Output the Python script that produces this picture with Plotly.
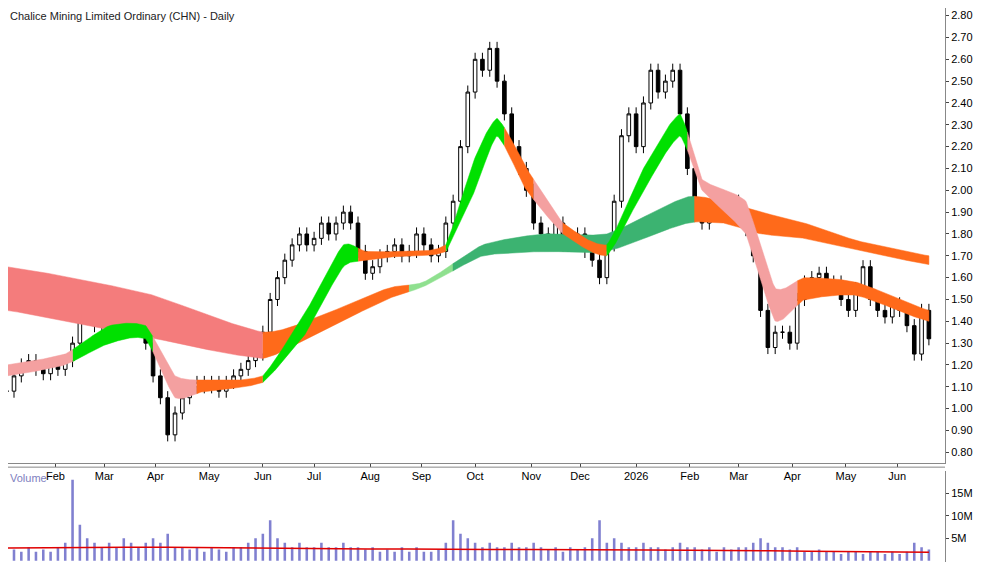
import numpy as np, pandas as pd
import plotly.graph_objects as go
from plotly.subplots import make_subplots

start = "2025-01-06"
closes = [1.08,1.15,1.20,1.22,1.18,1.16,1.20,1.18,1.22,1.30,1.45,1.42,1.38,1.45,1.42,1.48,1.45,1.50,1.40,1.30,
 1.15,1.05,0.88,0.98,1.05,1.10,1.12,1.10,1.12,1.08,1.12,1.15,1.18,1.22,1.25,1.35,1.50,1.60,1.68,1.75,
 1.80,1.75,1.78,1.85,1.80,1.85,1.90,1.85,1.72,1.62,1.65,1.70,1.72,1.75,1.70,1.72,1.80,1.75,1.70,1.72,
 1.85,1.95,2.20,2.45,2.60,2.55,2.65,2.50,2.35,2.20,2.10,2.00,1.85,1.80,1.78,1.85,1.75,1.78,1.80,1.72,
 1.68,1.60,1.75,1.95,2.25,2.35,2.20,2.40,2.55,2.45,2.50,2.55,2.35,2.10,1.90,1.85,1.90,1.95,1.90,1.95,
 1.90,1.82,1.70,1.45,1.28,1.35,1.35,1.30,1.50,1.58,1.60,1.62,1.55,1.58,1.50,1.45,1.55,1.65,1.50,1.45,
 1.42,1.48,1.45,1.38,1.25,1.45,1.32]
volumes = [3,2.5,2,3,2,2.5,2,3,4,18,8,5,4,3,4,3,5,4,3,4,
 5,4,6,3,3,2.5,3,2,3,2.5,2,3,3,4,5,6,9,5,4,3,
 4,3,3,4,3,3,4,3,3,2.5,3,2,2.5,2,3,2,3,2,2,2.5,
 4,9,6,5,4,3,4,3,3,4,3,3,4,3,2.5,3,2,3,2.5,3,
 5,9,4,5,4,3,3,4,3,3,2.5,3,4,3,3,2.5,3,2,3,2.5,
 3,3,4,5,4,3,3,2.5,3,2,2,2.5,2,2,1.5,2,2,1.5,2,2,
 1.5,2,1.5,2,4,3,2.5]
vol_ma = [2.8,2.9,3.0,3.0,3.0,2.9,2.8,2.8,2.7,2.6,2.6,2.5,2.5,2.5,2.5,2.4,2.4,2.3,2.3,2.2,2.1,2.0,1.9,1.9]

slow_idx = [0,19,35,41,52,57,65,73,82,93,98,103,109,116,126]
slow_up  = [1.65,1.53,1.35,1.40,1.55,1.58,1.75,1.80,1.80,1.97,1.95,1.90,1.85,1.77,1.70]
slow_lo  = [1.45,1.33,1.23,1.32,1.50,1.56,1.70,1.72,1.72,1.85,1.85,1.80,1.78,1.73,1.66]
slow_seg = [(0,35,"#f47c7c"),(35,55,"#ff6a1a"),(55,61,"#8fe08f"),(61,94,"#3cb371"),(94,126,"#ff6a1a")]

fast_idx = [0,8,14,19,23,27,35,41,46,49,54,60,64,67,71,76,82,87,92,95,101,105,109,116,126]
fast_up  = [1.20,1.25,1.38,1.38,1.15,1.13,1.15,1.45,1.75,1.72,1.72,1.75,2.15,2.33,2.10,1.85,1.75,2.10,2.35,2.05,1.95,1.55,1.60,1.58,1.45]
fast_lo  = [1.15,1.20,1.30,1.32,1.05,1.08,1.12,1.35,1.65,1.68,1.70,1.72,2.00,2.25,2.00,1.80,1.70,2.00,2.25,2.00,1.80,1.40,1.50,1.52,1.40]
fast_seg = [(0,9,"#f4a0a0"),(9,20,"#00e000"),(20,26,"#f4a0a0"),(26,35,"#ff6a1a"),(35,48,"#00e000"),
 (48,60,"#ff6a1a"),(60,68,"#00e000"),(68,72,"#ff6a1a"),(72,76,"#f4a0a0"),(76,82,"#ff6a1a"),(82,93,"#00e000"),
 (93,108,"#f4a0a0"),(108,126,"#ff6a1a")]

price_ticks = [0.80,0.90,1.00,1.10,1.20,1.30,1.40,1.50,1.60,1.70,1.80,1.90,2.00,2.10,2.20,2.30,2.40,2.50,2.60,2.70,2.80]
month_labels = ["Feb","Mar","Apr","May","Jun","Jul","Aug","Sep","Oct","Nov","Dec","2026","Feb","Mar","Apr","May","Jun"]
month_starts = ["2025-02-01","2025-03-01","2025-04-01","2025-05-01","2025-06-01","2025-07-01","2025-08-01",
 "2025-09-01","2025-10-01","2025-11-01","2025-12-01","2026-01-01","2026-02-01","2026-03-01","2026-04-01",
 "2026-05-01","2026-06-01"]

n = len(closes)
x = np.arange(n)
opens = [closes[0]] + closes[:-1]
highs = [max(o, c) + 0.03 for o, c in zip(opens, closes)]
lows = [min(o, c) - 0.03 for o, c in zip(opens, closes)]
tickpos = [np.busday_count(start, m) / 3 for m in month_starts]

fig = make_subplots(rows=2, cols=1, shared_xaxes=True)

def smooth(xs, idx, vals):
    idx = np.asarray(idx, float); vals = np.asarray(vals, float)
    out = np.empty_like(xs)
    for j, xv in enumerate(xs):
        k = min(max(np.searchsorted(idx, xv) - 1, 0), len(idx) - 2)
        t = (xv - idx[k]) / (idx[k + 1] - idx[k])
        p0 = vals[max(k - 1, 0)]; p1 = vals[k]; p2 = vals[k + 1]; p3 = vals[min(k + 2, len(vals) - 1)]
        out[j] = 0.5 * ((2 * p1) + (-p0 + p2) * t + (2 * p0 - 5 * p1 + 4 * p2 - p3) * t * t
                        + (-p0 + 3 * p1 - 3 * p2 + p3) * t ** 3) * 0.5 + (p1 + (p2 - p1) * t) * 0.5
    return out

def ribbon(idx, up, lo, segs):
    xs = np.linspace(0, n - 1, 1200)
    u = smooth(xs, idx, up); l = smooth(xs, idx, lo)
    for a, b, col in segs:
        m = (xs >= a - 0.06) & (xs <= b + 0.06)
        px = np.concatenate([xs[m], xs[m][::-1]])
        py = np.concatenate([u[m], l[m][::-1]])
        fig.add_trace(go.Scatter(x=px, y=py, fill="toself", fillcolor=col, mode="lines",
                                 line=dict(width=0.5, color=col), hoverinfo="skip", showlegend=False), 1, 1)

ribbon(slow_idx, slow_up, slow_lo, slow_seg)
ribbon(fast_idx, fast_up, fast_lo, fast_seg)

fig.add_trace(go.Candlestick(x=x, open=opens, high=highs, low=lows, close=closes,
    increasing=dict(fillcolor="white", line=dict(color="black", width=1)),
    decreasing=dict(fillcolor="black", line=dict(color="black", width=1)),
    showlegend=False), 1, 1)

fig.add_trace(go.Bar(x=x, y=[v * 1e6 for v in volumes], marker=dict(color="#8080d0", line_width=0),
                     width=0.35, showlegend=False), 2, 1)
fig.add_trace(go.Scatter(x=np.linspace(0, n - 1, len(vol_ma)), y=[v * 1e6 for v in vol_ma], mode="lines",
                         line=dict(color="#e00000", width=1.5), showlegend=False), 2, 1)

xr = [0.18, 128.2]
fig.update_layout(width=1000, height=562, margin=dict(l=0, r=63, t=0, b=0, autoexpand=False),
    paper_bgcolor="white", plot_bgcolor="white", font=dict(family="Liberation Sans", size=11, color="black"),
    xaxis=dict(range=xr, tickvals=tickpos, ticktext=month_labels, rangeslider=dict(visible=False),
               showgrid=False, ticks="outside", ticklen=3, showticklabels=True, anchor="y",
               showline=True, linecolor="#888", tickfont=dict(size=11)),
    xaxis2=dict(range=xr, showgrid=False, showticklabels=False, tickvals=tickpos),
    yaxis=dict(domain=[0.190, 1.0], range=[0.75, 2.835], side="right", tickvals=price_ticks,
               ticktext=[f"{v:.2f}" for v in price_ticks],
               showgrid=False, ticks="outside", ticklen=3, showline=True, linecolor="#888", mirror=False),
    yaxis2=dict(domain=[0.014, 0.176], range=[-0.32e6, 19.9e6], side="right", tickvals=[5e6, 10e6, 15e6],
                ticktext=["5M", "10M", "15M"], showgrid=False, ticks="outside", ticklen=3,
                showline=True, linecolor="#888"),
)
fig.add_annotation(x=0.0, y=1.0, xref="paper", yref="paper", text="Chalice Mining Limited Ordinary (CHN) - Daily",
                   showarrow=False, xanchor="left", yanchor="top", font=dict(size=11, color="#222"))
fig.add_annotation(x=0.0, y=0.178, xref="paper", yref="paper", text="Volume",
                   showarrow=False, xanchor="left", yanchor="top", font=dict(size=11, color="#8080c0"))
fig.add_shape(type="line", xref="paper", yref="paper", x0=0, x1=1, y0=0.183, y1=0.183,
              line=dict(color="#888", width=1))
fig.write_html("out.html")
